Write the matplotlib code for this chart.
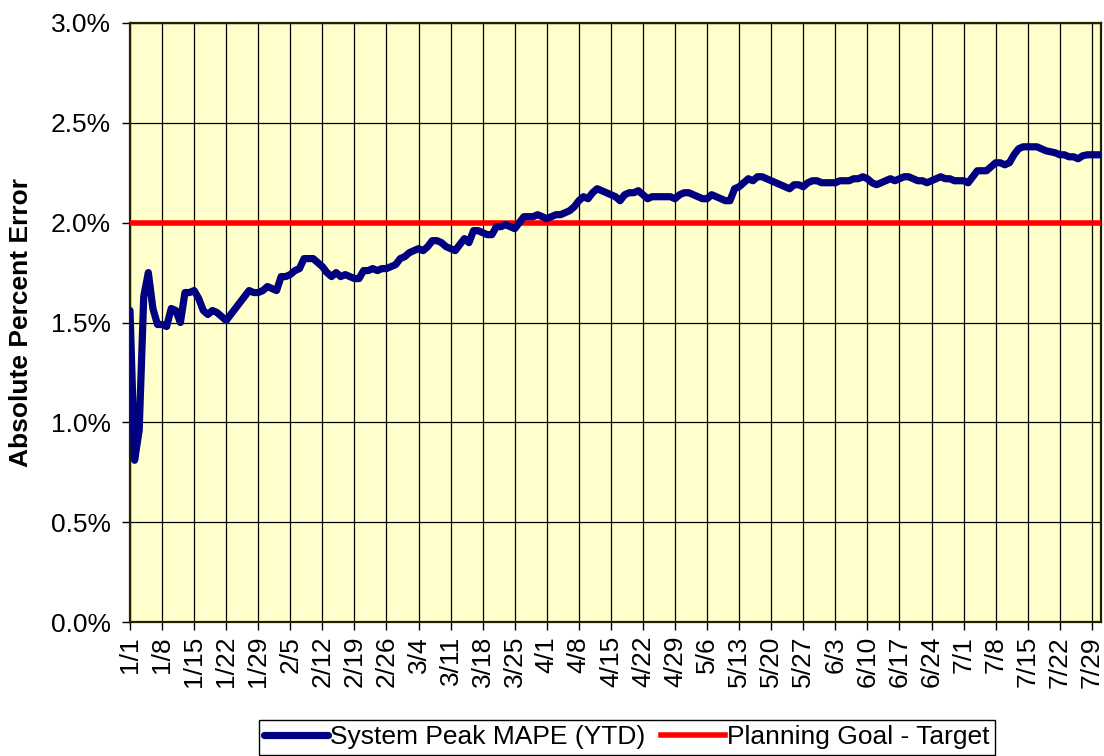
import matplotlib
matplotlib.use("Agg")
import matplotlib.pyplot as plt
from matplotlib.ticker import FuncFormatter, MultipleLocator

plt.rcParams['font.family'] = ['Liberation Sans', 'DejaVu Sans']

# Year-to-date system peak MAPE (%), one value per day from 1/1 to 7/31
mape_ytd = [
    1.56, 0.81, 0.96, 1.63, 1.75, 1.57, 1.49, 1.49, 1.48, 1.57,
    1.56, 1.50, 1.65, 1.65, 1.66, 1.62, 1.56, 1.54, 1.56, 1.55,
    1.53, 1.51, 1.54, 1.57, 1.60, 1.63, 1.66, 1.65, 1.65, 1.66,
    1.68, 1.67, 1.66, 1.73, 1.73, 1.74, 1.76, 1.77, 1.82, 1.82,
    1.82, 1.80, 1.78, 1.75, 1.73, 1.75, 1.73, 1.74, 1.73, 1.72,
    1.72, 1.76, 1.76, 1.77, 1.76, 1.77, 1.77, 1.78, 1.79, 1.82,
    1.83, 1.85, 1.86, 1.87, 1.86, 1.88, 1.91, 1.91, 1.90, 1.88,
    1.87, 1.86, 1.89, 1.92, 1.90, 1.96, 1.96, 1.95, 1.94, 1.94,
    1.98, 1.98, 1.99, 1.98, 1.97, 2.00, 2.03, 2.03, 2.03, 2.04,
    2.03, 2.02, 2.03, 2.04, 2.04, 2.05, 2.06, 2.08, 2.11, 2.13,
    2.12, 2.15, 2.17, 2.16, 2.15, 2.14, 2.13, 2.11, 2.14, 2.15,
    2.15, 2.16, 2.14, 2.12, 2.13, 2.13, 2.13, 2.13, 2.13, 2.12,
    2.14, 2.15, 2.15, 2.14, 2.13, 2.12, 2.12, 2.14, 2.13, 2.12,
    2.11, 2.11, 2.17, 2.18, 2.20, 2.22, 2.21, 2.23, 2.23, 2.22,
    2.21, 2.20, 2.19, 2.18, 2.17, 2.19, 2.19, 2.18, 2.20, 2.21,
    2.21, 2.20, 2.20, 2.20, 2.20, 2.21, 2.21, 2.21, 2.22, 2.22,
    2.23, 2.22, 2.20, 2.19, 2.20, 2.21, 2.22, 2.21, 2.22, 2.23,
    2.23, 2.22, 2.21, 2.21, 2.20, 2.21, 2.22, 2.23, 2.22, 2.22,
    2.21, 2.21, 2.21, 2.20, 2.23, 2.26, 2.26, 2.26, 2.28, 2.30,
    2.30, 2.29, 2.30, 2.34, 2.37, 2.38, 2.38, 2.38, 2.38, 2.37,
    2.36, 2.355, 2.35, 2.34, 2.34, 2.33, 2.33, 2.32, 2.335, 2.34,
    2.34, 2.34, 2.34,
]
goal_pct = 2.0

# weekly tick labels (leap year, so 2/26 + 7 = 3/4)
week_labels = [
    '1/1', '1/8', '1/15', '1/22', '1/29', '2/5', '2/12', '2/19', '2/26',
    '3/4', '3/11', '3/18', '3/25', '4/1', '4/8', '4/15', '4/22', '4/29',
    '5/6', '5/13', '5/20', '5/27', '6/3', '6/10', '6/17', '6/24', '7/1',
    '7/8', '7/15', '7/22', '7/29',
]

days = list(range(len(mape_ytd)))
week_ticks = [7 * i for i in range(len(week_labels))]

fig = plt.figure(figsize=(11.04, 7.56), dpi=100)
ax = fig.add_axes([130 / 1104, 1 - 622 / 756, 971 / 1104, 599 / 756])
ax.set_facecolor('#FFFFCC')

line_mape, = ax.plot(days, mape_ytd, color='#000080', lw=5.2,
                     solid_joinstyle='round', solid_capstyle='round',
                     label='System Peak MAPE (YTD)', zorder=4)
line_goal, = ax.plot([days[0], days[-1]], [goal_pct, goal_pct], color='#FF0000',
                     lw=4.0, label='Planning Goal - Target', zorder=3)

ax.set_xlim(days[0], days[-1])
ax.set_ylim(0, 3.0)
ax.yaxis.set_major_locator(MultipleLocator(0.5))
ax.yaxis.set_major_formatter(FuncFormatter(lambda v, p: f'{v:.1f}%'))
ax.set_xticks(week_ticks)
ax.set_xticklabels(week_labels, rotation=90)

ax.grid(True, color='black', lw=0.9)
ax.set_axisbelow(True)
for side in ax.spines.values():
    side.set_color('#222200')
    side.set_linewidth(1.6)

ax.tick_params(axis='both', direction='out', length=6, width=1,
               labelsize=19, color='black')
ax.tick_params(axis='x', pad=4)
ax.tick_params(axis='y', pad=8)

ax.set_ylabel('Absolute Percent Error', fontsize=19, fontweight='bold')
ax.yaxis.set_label_coords(-97 / 971, 0.5)

fig.legend(handles=[line_mape, line_goal], loc='upper center',
           bbox_to_anchor=(627 / 1104, 1 - 720 / 756), ncol=2, fontsize=19,
           frameon=True, fancybox=False, edgecolor='black', framealpha=1,
           handlelength=2.4, handletextpad=0.1, columnspacing=0.6,
           borderpad=0.2, borderaxespad=0)

fig.savefig('out.png', dpi=100)
